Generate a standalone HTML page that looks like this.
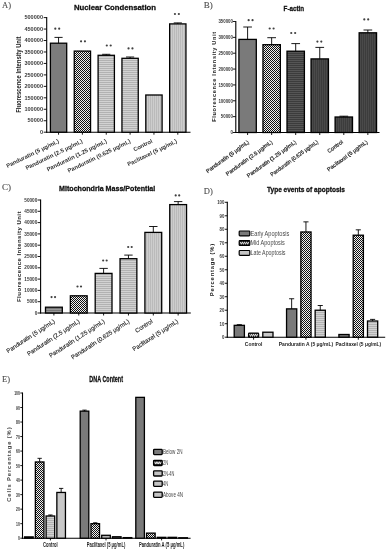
<!DOCTYPE html><html><head><meta charset="utf-8"><style>html,body{margin:0;padding:0;background:#fff;width:387px;height:550px;overflow:hidden}svg{display:block;filter:blur(0.3px)}</style></head><body>
<svg width="387" height="550" viewBox="0 0 387 550">
<defs>
<pattern id="chk" width="2" height="2" patternUnits="userSpaceOnUse"><rect width="2" height="2" fill="#f0f0f0"/><rect width="1" height="1" fill="#111"/><rect x="1" y="1" width="1" height="1" fill="#111"/></pattern>
<pattern id="hl" width="2" height="2" patternUnits="userSpaceOnUse"><rect width="2" height="2" fill="#d2d2d2"/><rect width="2" height="1" fill="#b2b2b2"/></pattern>
<pattern id="vl" width="2" height="2" patternUnits="userSpaceOnUse"><rect width="2" height="2" fill="#cdcdcd"/><rect width="1" height="2" fill="#bababa"/></pattern>
<pattern id="lg" width="2" height="2" patternUnits="userSpaceOnUse"><rect width="2" height="2" fill="#c6c6c6"/></pattern>
<pattern id="dhl" width="2" height="2" patternUnits="userSpaceOnUse"><rect width="2" height="2" fill="#3c3c3c"/><rect width="2" height="1" fill="#555"/></pattern>
<pattern id="dvl" width="2" height="2" patternUnits="userSpaceOnUse"><rect width="2" height="2" fill="#3c3c3c"/><rect width="1" height="2" fill="#4a4a4a"/></pattern>
<pattern id="mhl" width="2" height="2" patternUnits="userSpaceOnUse"><rect width="2" height="2" fill="#999"/><rect width="2" height="1" fill="#777"/></pattern>
</defs>
<rect width="387" height="550" fill="#fff"/>
<text x="2.00" y="7.50" font-size="8.8" font-family='"Liberation Serif", serif' text-anchor="start" fill="#4a4a4a" textLength="9.00" lengthAdjust="spacingAndGlyphs" stroke="#4a4a4a" stroke-width="0.1">A)</text>
<text x="74.00" y="9.70" font-size="8.0" font-family='"Liberation Sans", sans-serif' text-anchor="start" fill="#111" font-weight="bold" textLength="82.00" lengthAdjust="spacingAndGlyphs" stroke="#111" stroke-width="0.3">Nuclear Condensation</text>
<line x1="46.70" y1="17.10" x2="46.70" y2="132.70" stroke="#000" stroke-width="1.1"/>
<line x1="46.20" y1="132.20" x2="190.50" y2="132.20" stroke="#000" stroke-width="1.1"/>
<line x1="43.70" y1="132.20" x2="46.70" y2="132.20" stroke="#000" stroke-width="0.9"/>
<text x="43.00" y="133.90" font-size="4.8" font-family='"Liberation Sans", sans-serif' text-anchor="end" fill="#3a3a3a" font-weight="bold" textLength="3.10" lengthAdjust="spacingAndGlyphs">0</text>
<line x1="43.70" y1="120.74" x2="46.70" y2="120.74" stroke="#000" stroke-width="0.9"/>
<text x="43.00" y="122.44" font-size="4.8" font-family='"Liberation Sans", sans-serif' text-anchor="end" fill="#3a3a3a" font-weight="bold" textLength="15.50" lengthAdjust="spacingAndGlyphs">50000</text>
<line x1="43.70" y1="109.28" x2="46.70" y2="109.28" stroke="#000" stroke-width="0.9"/>
<text x="43.00" y="110.98" font-size="4.8" font-family='"Liberation Sans", sans-serif' text-anchor="end" fill="#3a3a3a" font-weight="bold" textLength="18.60" lengthAdjust="spacingAndGlyphs">100000</text>
<line x1="43.70" y1="97.82" x2="46.70" y2="97.82" stroke="#000" stroke-width="0.9"/>
<text x="43.00" y="99.52" font-size="4.8" font-family='"Liberation Sans", sans-serif' text-anchor="end" fill="#3a3a3a" font-weight="bold" textLength="18.60" lengthAdjust="spacingAndGlyphs">150000</text>
<line x1="43.70" y1="86.36" x2="46.70" y2="86.36" stroke="#000" stroke-width="0.9"/>
<text x="43.00" y="88.06" font-size="4.8" font-family='"Liberation Sans", sans-serif' text-anchor="end" fill="#3a3a3a" font-weight="bold" textLength="18.60" lengthAdjust="spacingAndGlyphs">200000</text>
<line x1="43.70" y1="74.90" x2="46.70" y2="74.90" stroke="#000" stroke-width="0.9"/>
<text x="43.00" y="76.60" font-size="4.8" font-family='"Liberation Sans", sans-serif' text-anchor="end" fill="#3a3a3a" font-weight="bold" textLength="18.60" lengthAdjust="spacingAndGlyphs">250000</text>
<line x1="43.70" y1="63.44" x2="46.70" y2="63.44" stroke="#000" stroke-width="0.9"/>
<text x="43.00" y="65.14" font-size="4.8" font-family='"Liberation Sans", sans-serif' text-anchor="end" fill="#3a3a3a" font-weight="bold" textLength="18.60" lengthAdjust="spacingAndGlyphs">300000</text>
<line x1="43.70" y1="51.98" x2="46.70" y2="51.98" stroke="#000" stroke-width="0.9"/>
<text x="43.00" y="53.68" font-size="4.8" font-family='"Liberation Sans", sans-serif' text-anchor="end" fill="#3a3a3a" font-weight="bold" textLength="18.60" lengthAdjust="spacingAndGlyphs">350000</text>
<line x1="43.70" y1="40.52" x2="46.70" y2="40.52" stroke="#000" stroke-width="0.9"/>
<text x="43.00" y="42.22" font-size="4.8" font-family='"Liberation Sans", sans-serif' text-anchor="end" fill="#3a3a3a" font-weight="bold" textLength="18.60" lengthAdjust="spacingAndGlyphs">400000</text>
<line x1="43.70" y1="29.06" x2="46.70" y2="29.06" stroke="#000" stroke-width="0.9"/>
<text x="43.00" y="30.76" font-size="4.8" font-family='"Liberation Sans", sans-serif' text-anchor="end" fill="#3a3a3a" font-weight="bold" textLength="18.60" lengthAdjust="spacingAndGlyphs">450000</text>
<line x1="43.70" y1="17.60" x2="46.70" y2="17.60" stroke="#000" stroke-width="0.9"/>
<text x="43.00" y="19.30" font-size="4.8" font-family='"Liberation Sans", sans-serif' text-anchor="end" fill="#3a3a3a" font-weight="bold" textLength="18.60" lengthAdjust="spacingAndGlyphs">500000</text>
<text x="21.40" y="112.80" font-size="7.0" font-family='"Liberation Sans", sans-serif' text-anchor="start" fill="#222" font-weight="bold" textLength="76.30" lengthAdjust="spacingAndGlyphs" transform="rotate(-90 21.40 112.80)">Fluorescence Intensity Unit</text>
<rect x="50.40" y="43.20" width="16.30" height="89.00" fill="#7c7c7c" stroke="#000" stroke-width="1.3"/>
<line x1="58.55" y1="43.20" x2="58.55" y2="37.40" stroke="#000" stroke-width="0.9"/>
<line x1="54.47" y1="37.40" x2="62.62" y2="37.40" stroke="#000" stroke-width="0.9"/>
<line x1="58.55" y1="132.20" x2="58.55" y2="134.70" stroke="#000" stroke-width="0.9"/>
<circle cx="55.30" cy="28.70" r="1.1" fill="#404040"/>
<circle cx="59.20" cy="28.70" r="1.1" fill="#404040"/>
<text x="59.55" y="142.50" font-size="5.8" font-family='"Liberation Sans", sans-serif' text-anchor="end" fill="#303030" font-weight="bold" transform="rotate(-26 59.55 142.50)">Panduratin (5 μg/mL)</text>
<rect x="74.25" y="51.10" width="16.30" height="81.10" fill="url(#chk)" stroke="#000" stroke-width="1.3"/>
<line x1="82.40" y1="132.20" x2="82.40" y2="134.70" stroke="#000" stroke-width="0.9"/>
<circle cx="81.05" cy="41.30" r="1.1" fill="#404040"/>
<circle cx="84.95" cy="41.30" r="1.1" fill="#404040"/>
<text x="83.10" y="142.50" font-size="5.8" font-family='"Liberation Sans", sans-serif' text-anchor="end" fill="#303030" font-weight="bold" transform="rotate(-26 83.10 142.50)">Panduratin (2.5 μg/mL)</text>
<rect x="98.10" y="55.30" width="16.30" height="76.90" fill="url(#hl)" stroke="#000" stroke-width="1.3"/>
<line x1="106.25" y1="55.30" x2="106.25" y2="54.30" stroke="#000" stroke-width="0.9"/>
<line x1="102.17" y1="54.30" x2="110.33" y2="54.30" stroke="#000" stroke-width="0.9"/>
<line x1="106.25" y1="132.20" x2="106.25" y2="134.70" stroke="#000" stroke-width="0.9"/>
<circle cx="106.80" cy="45.50" r="1.1" fill="#404040"/>
<circle cx="110.70" cy="45.50" r="1.1" fill="#404040"/>
<text x="107.25" y="142.50" font-size="5.8" font-family='"Liberation Sans", sans-serif' text-anchor="end" fill="#303030" font-weight="bold" transform="rotate(-26 107.25 142.50)">Panduratin (1.25 μg/mL)</text>
<rect x="121.95" y="58.30" width="16.30" height="73.90" fill="url(#hl)" stroke="#000" stroke-width="1.3"/>
<line x1="130.10" y1="58.30" x2="130.10" y2="57.00" stroke="#000" stroke-width="0.9"/>
<line x1="126.03" y1="57.00" x2="134.18" y2="57.00" stroke="#000" stroke-width="0.9"/>
<line x1="130.10" y1="132.20" x2="130.10" y2="134.70" stroke="#000" stroke-width="0.9"/>
<circle cx="128.55" cy="48.40" r="1.1" fill="#404040"/>
<circle cx="132.45" cy="48.40" r="1.1" fill="#404040"/>
<text x="131.10" y="142.50" font-size="5.8" font-family='"Liberation Sans", sans-serif' text-anchor="end" fill="#303030" font-weight="bold" transform="rotate(-26 131.10 142.50)">Panduratin (0.625 μg/mL)</text>
<rect x="145.80" y="95.00" width="16.30" height="37.20" fill="url(#vl)" stroke="#000" stroke-width="1.3"/>
<line x1="153.95" y1="132.20" x2="153.95" y2="134.70" stroke="#000" stroke-width="0.9"/>
<text x="152.95" y="142.50" font-size="5.8" font-family='"Liberation Sans", sans-serif' text-anchor="end" fill="#303030" font-weight="bold" transform="rotate(-26 152.95 142.50)">Control</text>
<rect x="169.65" y="23.90" width="16.30" height="108.30" fill="url(#vl)" stroke="#000" stroke-width="1.3"/>
<line x1="177.80" y1="23.90" x2="177.80" y2="22.90" stroke="#000" stroke-width="0.9"/>
<line x1="173.73" y1="22.90" x2="181.88" y2="22.90" stroke="#000" stroke-width="0.9"/>
<line x1="177.80" y1="132.20" x2="177.80" y2="134.70" stroke="#000" stroke-width="0.9"/>
<circle cx="174.95" cy="14.00" r="1.1" fill="#404040"/>
<circle cx="178.85" cy="14.00" r="1.1" fill="#404040"/>
<text x="177.50" y="142.50" font-size="5.8" font-family='"Liberation Sans", sans-serif' text-anchor="end" fill="#303030" font-weight="bold" transform="rotate(-26 177.50 142.50)">Paclitaxel (5 μg/mL)</text>
<text x="203.80" y="7.90" font-size="8.8" font-family='"Liberation Serif", serif' text-anchor="start" fill="#4a4a4a" textLength="9.00" lengthAdjust="spacingAndGlyphs" stroke="#4a4a4a" stroke-width="0.1">B)</text>
<text x="283.60" y="11.20" font-size="7.8" font-family='"Liberation Sans", sans-serif' text-anchor="start" fill="#111" font-weight="bold" textLength="20.60" lengthAdjust="spacingAndGlyphs" stroke="#111" stroke-width="0.3">F-actin</text>
<line x1="235.80" y1="21.00" x2="235.80" y2="133.00" stroke="#000" stroke-width="1.1"/>
<line x1="235.30" y1="132.50" x2="379.50" y2="132.50" stroke="#000" stroke-width="1.1"/>
<line x1="232.80" y1="132.50" x2="235.80" y2="132.50" stroke="#000" stroke-width="0.9"/>
<text x="232.90" y="134.30" font-size="5.0" font-family='"Liberation Sans", sans-serif' text-anchor="end" fill="#3a3a3a" font-weight="bold" textLength="2.42" lengthAdjust="spacingAndGlyphs">0</text>
<line x1="232.80" y1="116.64" x2="235.80" y2="116.64" stroke="#000" stroke-width="0.9"/>
<text x="232.90" y="118.44" font-size="5.0" font-family='"Liberation Sans", sans-serif' text-anchor="end" fill="#3a3a3a" font-weight="bold" textLength="12.10" lengthAdjust="spacingAndGlyphs">50000</text>
<line x1="232.80" y1="100.79" x2="235.80" y2="100.79" stroke="#000" stroke-width="0.9"/>
<text x="232.90" y="102.59" font-size="5.0" font-family='"Liberation Sans", sans-serif' text-anchor="end" fill="#3a3a3a" font-weight="bold" textLength="14.52" lengthAdjust="spacingAndGlyphs">100000</text>
<line x1="232.80" y1="84.93" x2="235.80" y2="84.93" stroke="#000" stroke-width="0.9"/>
<text x="232.90" y="86.73" font-size="5.0" font-family='"Liberation Sans", sans-serif' text-anchor="end" fill="#3a3a3a" font-weight="bold" textLength="14.52" lengthAdjust="spacingAndGlyphs">150000</text>
<line x1="232.80" y1="69.07" x2="235.80" y2="69.07" stroke="#000" stroke-width="0.9"/>
<text x="232.90" y="70.87" font-size="5.0" font-family='"Liberation Sans", sans-serif' text-anchor="end" fill="#3a3a3a" font-weight="bold" textLength="14.52" lengthAdjust="spacingAndGlyphs">200000</text>
<line x1="232.80" y1="53.21" x2="235.80" y2="53.21" stroke="#000" stroke-width="0.9"/>
<text x="232.90" y="55.01" font-size="5.0" font-family='"Liberation Sans", sans-serif' text-anchor="end" fill="#3a3a3a" font-weight="bold" textLength="14.52" lengthAdjust="spacingAndGlyphs">250000</text>
<line x1="232.80" y1="37.36" x2="235.80" y2="37.36" stroke="#000" stroke-width="0.9"/>
<text x="232.90" y="39.16" font-size="5.0" font-family='"Liberation Sans", sans-serif' text-anchor="end" fill="#3a3a3a" font-weight="bold" textLength="14.52" lengthAdjust="spacingAndGlyphs">300000</text>
<line x1="232.80" y1="21.50" x2="235.80" y2="21.50" stroke="#000" stroke-width="0.9"/>
<text x="232.90" y="23.30" font-size="5.0" font-family='"Liberation Sans", sans-serif' text-anchor="end" fill="#3a3a3a" font-weight="bold" textLength="14.52" lengthAdjust="spacingAndGlyphs">350000</text>
<text x="215.60" y="121.80" font-size="5.7" font-family='"Liberation Sans", sans-serif' text-anchor="start" fill="#222" font-weight="bold" textLength="90.00" lengthAdjust="spacing" transform="rotate(-90 215.60 121.80)">Fluorescence Intensity Unit</text>
<rect x="238.90" y="39.40" width="17.40" height="93.10" fill="#7a7a7a" stroke="#000" stroke-width="1.3"/>
<line x1="247.60" y1="39.40" x2="247.60" y2="27.00" stroke="#000" stroke-width="0.9"/>
<line x1="243.25" y1="27.00" x2="251.95" y2="27.00" stroke="#000" stroke-width="0.9"/>
<line x1="247.60" y1="132.50" x2="247.60" y2="135.00" stroke="#000" stroke-width="0.9"/>
<circle cx="248.65" cy="20.20" r="1.1" fill="#404040"/>
<circle cx="252.55" cy="20.20" r="1.1" fill="#404040"/>
<text x="249.60" y="142.80" font-size="5.5" font-family='"Liberation Sans", sans-serif' text-anchor="end" fill="#2a2a2a" transform="rotate(-36 249.60 142.80)" stroke="#2a2a2a" stroke-width="0.22">Panduratin (5 μg/mL)</text>
<rect x="262.95" y="44.70" width="17.40" height="87.80" fill="url(#chk)" stroke="#000" stroke-width="1.3"/>
<line x1="271.65" y1="44.70" x2="271.65" y2="37.70" stroke="#000" stroke-width="0.9"/>
<line x1="267.30" y1="37.70" x2="276.00" y2="37.70" stroke="#000" stroke-width="0.9"/>
<line x1="271.65" y1="132.50" x2="271.65" y2="135.00" stroke="#000" stroke-width="0.9"/>
<circle cx="269.70" cy="28.50" r="1.1" fill="#404040"/>
<circle cx="273.60" cy="28.50" r="1.1" fill="#404040"/>
<text x="273.05" y="142.80" font-size="5.5" font-family='"Liberation Sans", sans-serif' text-anchor="end" fill="#2a2a2a" transform="rotate(-36 273.05 142.80)" stroke="#2a2a2a" stroke-width="0.22">Panduratin (2.5 μg/mL)</text>
<rect x="287.00" y="51.20" width="17.40" height="81.30" fill="url(#dhl)" stroke="#000" stroke-width="1.3"/>
<line x1="295.70" y1="51.20" x2="295.70" y2="43.60" stroke="#000" stroke-width="0.9"/>
<line x1="291.35" y1="43.60" x2="300.05" y2="43.60" stroke="#000" stroke-width="0.9"/>
<line x1="295.70" y1="132.50" x2="295.70" y2="135.00" stroke="#000" stroke-width="0.9"/>
<circle cx="291.25" cy="33.00" r="1.1" fill="#404040"/>
<circle cx="295.15" cy="33.00" r="1.1" fill="#404040"/>
<text x="296.70" y="142.80" font-size="5.5" font-family='"Liberation Sans", sans-serif' text-anchor="end" fill="#2a2a2a" transform="rotate(-36 296.70 142.80)" stroke="#2a2a2a" stroke-width="0.22">Panduratin (1.25 μg/mL)</text>
<rect x="311.05" y="58.90" width="17.40" height="73.60" fill="url(#dvl)" stroke="#000" stroke-width="1.3"/>
<line x1="319.75" y1="58.90" x2="319.75" y2="47.40" stroke="#000" stroke-width="0.9"/>
<line x1="315.40" y1="47.40" x2="324.10" y2="47.40" stroke="#000" stroke-width="0.9"/>
<line x1="319.75" y1="132.50" x2="319.75" y2="135.00" stroke="#000" stroke-width="0.9"/>
<circle cx="317.40" cy="41.60" r="1.1" fill="#404040"/>
<circle cx="321.30" cy="41.60" r="1.1" fill="#404040"/>
<text x="318.55" y="142.80" font-size="5.5" font-family='"Liberation Sans", sans-serif' text-anchor="end" fill="#2a2a2a" textLength="57.50" lengthAdjust="spacingAndGlyphs" transform="rotate(-36 318.55 142.80)" stroke="#2a2a2a" stroke-width="0.22">Panduratin (0.625 μg/mL)</text>
<rect x="335.10" y="117.00" width="17.40" height="15.50" fill="url(#dvl)" stroke="#000" stroke-width="1.3"/>
<line x1="343.80" y1="117.00" x2="343.80" y2="116.20" stroke="#000" stroke-width="0.9"/>
<line x1="339.45" y1="116.20" x2="348.15" y2="116.20" stroke="#000" stroke-width="0.9"/>
<line x1="343.80" y1="132.50" x2="343.80" y2="135.00" stroke="#000" stroke-width="0.9"/>
<text x="343.40" y="142.80" font-size="5.5" font-family='"Liberation Sans", sans-serif' text-anchor="end" fill="#2a2a2a" transform="rotate(-36 343.40 142.80)" stroke="#2a2a2a" stroke-width="0.22">Control</text>
<rect x="359.15" y="32.80" width="17.40" height="99.70" fill="url(#dvl)" stroke="#000" stroke-width="1.3"/>
<line x1="367.85" y1="32.80" x2="367.85" y2="30.00" stroke="#000" stroke-width="0.9"/>
<line x1="363.50" y1="30.00" x2="372.20" y2="30.00" stroke="#000" stroke-width="0.9"/>
<line x1="367.85" y1="132.50" x2="367.85" y2="135.00" stroke="#000" stroke-width="0.9"/>
<circle cx="364.30" cy="19.40" r="1.1" fill="#404040"/>
<circle cx="368.20" cy="19.40" r="1.1" fill="#404040"/>
<text x="368.25" y="142.80" font-size="5.5" font-family='"Liberation Sans", sans-serif' text-anchor="end" fill="#2a2a2a" transform="rotate(-36 368.25 142.80)" stroke="#2a2a2a" stroke-width="0.22">Paclitaxel (5 μg/mL)</text>
<text x="2.00" y="189.50" font-size="8.8" font-family='"Liberation Serif", serif' text-anchor="start" fill="#4a4a4a" textLength="9.00" lengthAdjust="spacingAndGlyphs" stroke="#4a4a4a" stroke-width="0.1">C)</text>
<text x="59.10" y="190.70" font-size="7.7" font-family='"Liberation Sans", sans-serif' text-anchor="start" fill="#111" font-weight="bold" textLength="96.20" lengthAdjust="spacingAndGlyphs" stroke="#111" stroke-width="0.3">Mitochondria Mass/Potential</text>
<line x1="40.60" y1="199.50" x2="40.60" y2="313.50" stroke="#000" stroke-width="1.1"/>
<line x1="40.10" y1="313.00" x2="190.80" y2="313.00" stroke="#000" stroke-width="1.1"/>
<line x1="37.60" y1="313.00" x2="40.60" y2="313.00" stroke="#000" stroke-width="0.9"/>
<text x="37.30" y="314.60" font-size="4.5" font-family='"Liberation Sans", sans-serif' text-anchor="end" fill="#3a3a3a" font-weight="bold" textLength="2.60" lengthAdjust="spacingAndGlyphs">0</text>
<line x1="37.60" y1="301.70" x2="40.60" y2="301.70" stroke="#000" stroke-width="0.9"/>
<text x="37.30" y="303.30" font-size="4.5" font-family='"Liberation Sans", sans-serif' text-anchor="end" fill="#3a3a3a" font-weight="bold" textLength="10.40" lengthAdjust="spacingAndGlyphs">5000</text>
<line x1="37.60" y1="290.40" x2="40.60" y2="290.40" stroke="#000" stroke-width="0.9"/>
<text x="37.30" y="292.00" font-size="4.5" font-family='"Liberation Sans", sans-serif' text-anchor="end" fill="#3a3a3a" font-weight="bold" textLength="13.00" lengthAdjust="spacingAndGlyphs">10000</text>
<line x1="37.60" y1="279.10" x2="40.60" y2="279.10" stroke="#000" stroke-width="0.9"/>
<text x="37.30" y="280.70" font-size="4.5" font-family='"Liberation Sans", sans-serif' text-anchor="end" fill="#3a3a3a" font-weight="bold" textLength="13.00" lengthAdjust="spacingAndGlyphs">15000</text>
<line x1="37.60" y1="267.80" x2="40.60" y2="267.80" stroke="#000" stroke-width="0.9"/>
<text x="37.30" y="269.40" font-size="4.5" font-family='"Liberation Sans", sans-serif' text-anchor="end" fill="#3a3a3a" font-weight="bold" textLength="13.00" lengthAdjust="spacingAndGlyphs">20000</text>
<line x1="37.60" y1="256.50" x2="40.60" y2="256.50" stroke="#000" stroke-width="0.9"/>
<text x="37.30" y="258.10" font-size="4.5" font-family='"Liberation Sans", sans-serif' text-anchor="end" fill="#3a3a3a" font-weight="bold" textLength="13.00" lengthAdjust="spacingAndGlyphs">25000</text>
<line x1="37.60" y1="245.20" x2="40.60" y2="245.20" stroke="#000" stroke-width="0.9"/>
<text x="37.30" y="246.80" font-size="4.5" font-family='"Liberation Sans", sans-serif' text-anchor="end" fill="#3a3a3a" font-weight="bold" textLength="13.00" lengthAdjust="spacingAndGlyphs">30000</text>
<line x1="37.60" y1="233.90" x2="40.60" y2="233.90" stroke="#000" stroke-width="0.9"/>
<text x="37.30" y="235.50" font-size="4.5" font-family='"Liberation Sans", sans-serif' text-anchor="end" fill="#3a3a3a" font-weight="bold" textLength="13.00" lengthAdjust="spacingAndGlyphs">35000</text>
<line x1="37.60" y1="222.60" x2="40.60" y2="222.60" stroke="#000" stroke-width="0.9"/>
<text x="37.30" y="224.20" font-size="4.5" font-family='"Liberation Sans", sans-serif' text-anchor="end" fill="#3a3a3a" font-weight="bold" textLength="13.00" lengthAdjust="spacingAndGlyphs">40000</text>
<line x1="37.60" y1="211.30" x2="40.60" y2="211.30" stroke="#000" stroke-width="0.9"/>
<text x="37.30" y="212.90" font-size="4.5" font-family='"Liberation Sans", sans-serif' text-anchor="end" fill="#3a3a3a" font-weight="bold" textLength="13.00" lengthAdjust="spacingAndGlyphs">45000</text>
<line x1="37.60" y1="200.00" x2="40.60" y2="200.00" stroke="#000" stroke-width="0.9"/>
<text x="37.30" y="201.60" font-size="4.5" font-family='"Liberation Sans", sans-serif' text-anchor="end" fill="#3a3a3a" font-weight="bold" textLength="13.00" lengthAdjust="spacingAndGlyphs">50000</text>
<text x="20.50" y="302.00" font-size="6.0" font-family='"Liberation Sans", sans-serif' text-anchor="start" fill="#222" font-weight="bold" textLength="90.50" lengthAdjust="spacing" transform="rotate(-90 20.50 302.00)">Fluorescence Intensity Unit</text>
<rect x="45.50" y="307.20" width="16.80" height="5.80" fill="url(#mhl)" stroke="#000" stroke-width="1.3"/>
<line x1="53.90" y1="313.00" x2="53.90" y2="315.50" stroke="#000" stroke-width="0.9"/>
<circle cx="51.55" cy="297.10" r="1.1" fill="#404040"/>
<circle cx="55.05" cy="297.10" r="1.1" fill="#404040"/>
<text x="55.40" y="322.40" font-size="6.0" font-family='"Liberation Sans", sans-serif' text-anchor="end" fill="#2a2a2a" transform="rotate(-33 55.40 322.40)" stroke="#2a2a2a" stroke-width="0.15">Panduratin (5 μg/mL)</text>
<rect x="70.35" y="295.80" width="16.80" height="17.20" fill="url(#chk)" stroke="#000" stroke-width="1.3"/>
<line x1="78.75" y1="313.00" x2="78.75" y2="315.50" stroke="#000" stroke-width="0.9"/>
<circle cx="77.50" cy="286.50" r="1.1" fill="#404040"/>
<circle cx="81.00" cy="286.50" r="1.1" fill="#404040"/>
<text x="80.25" y="322.40" font-size="6.0" font-family='"Liberation Sans", sans-serif' text-anchor="end" fill="#2a2a2a" transform="rotate(-33 80.25 322.40)" stroke="#2a2a2a" stroke-width="0.15">Panduratin (2.5 μg/mL)</text>
<rect x="95.20" y="273.40" width="16.80" height="39.60" fill="url(#hl)" stroke="#000" stroke-width="1.3"/>
<line x1="103.60" y1="273.40" x2="103.60" y2="268.40" stroke="#000" stroke-width="0.9"/>
<line x1="99.40" y1="268.40" x2="107.80" y2="268.40" stroke="#000" stroke-width="0.9"/>
<line x1="103.60" y1="313.00" x2="103.60" y2="315.50" stroke="#000" stroke-width="0.9"/>
<circle cx="103.15" cy="260.50" r="1.1" fill="#404040"/>
<circle cx="106.65" cy="260.50" r="1.1" fill="#404040"/>
<text x="105.10" y="322.40" font-size="6.0" font-family='"Liberation Sans", sans-serif' text-anchor="end" fill="#2a2a2a" transform="rotate(-33 105.10 322.40)" stroke="#2a2a2a" stroke-width="0.15">Panduratin (1.25 μg/mL)</text>
<rect x="120.05" y="258.70" width="16.80" height="54.30" fill="url(#hl)" stroke="#000" stroke-width="1.3"/>
<line x1="128.45" y1="258.70" x2="128.45" y2="255.10" stroke="#000" stroke-width="0.9"/>
<line x1="124.25" y1="255.10" x2="132.65" y2="255.10" stroke="#000" stroke-width="0.9"/>
<line x1="128.45" y1="313.00" x2="128.45" y2="315.50" stroke="#000" stroke-width="0.9"/>
<circle cx="128.20" cy="247.00" r="1.1" fill="#404040"/>
<circle cx="131.70" cy="247.00" r="1.1" fill="#404040"/>
<text x="129.95" y="322.40" font-size="6.0" font-family='"Liberation Sans", sans-serif' text-anchor="end" fill="#2a2a2a" transform="rotate(-33 129.95 322.40)" stroke="#2a2a2a" stroke-width="0.15">Panduratin (0.625 μg/mL)</text>
<rect x="144.90" y="232.40" width="16.80" height="80.60" fill="url(#vl)" stroke="#000" stroke-width="1.3"/>
<line x1="153.30" y1="232.40" x2="153.30" y2="226.50" stroke="#000" stroke-width="0.9"/>
<line x1="149.10" y1="226.50" x2="157.50" y2="226.50" stroke="#000" stroke-width="0.9"/>
<line x1="153.30" y1="313.00" x2="153.30" y2="315.50" stroke="#000" stroke-width="0.9"/>
<text x="153.10" y="322.40" font-size="6.0" font-family='"Liberation Sans", sans-serif' text-anchor="end" fill="#2a2a2a" transform="rotate(-33 153.10 322.40)" stroke="#2a2a2a" stroke-width="0.15">Control</text>
<rect x="169.75" y="204.60" width="16.80" height="108.40" fill="url(#vl)" stroke="#000" stroke-width="1.3"/>
<line x1="178.15" y1="204.60" x2="178.15" y2="201.60" stroke="#000" stroke-width="0.9"/>
<line x1="173.95" y1="201.60" x2="182.35" y2="201.60" stroke="#000" stroke-width="0.9"/>
<line x1="178.15" y1="313.00" x2="178.15" y2="315.50" stroke="#000" stroke-width="0.9"/>
<circle cx="175.70" cy="195.40" r="1.1" fill="#404040"/>
<circle cx="179.20" cy="195.40" r="1.1" fill="#404040"/>
<text x="178.65" y="322.40" font-size="6.0" font-family='"Liberation Sans", sans-serif' text-anchor="end" fill="#2a2a2a" transform="rotate(-33 178.65 322.40)" stroke="#2a2a2a" stroke-width="0.15">Paclitaxel (5 μg/mL)</text>
<text x="203.80" y="194.40" font-size="8.8" font-family='"Liberation Serif", serif' text-anchor="start" fill="#4a4a4a" textLength="9.00" lengthAdjust="spacingAndGlyphs" stroke="#4a4a4a" stroke-width="0.1">D)</text>
<text x="267.00" y="192.10" font-size="7.1" font-family='"Liberation Sans", sans-serif' text-anchor="start" fill="#111" font-weight="bold" textLength="78.00" lengthAdjust="spacingAndGlyphs" stroke="#111" stroke-width="0.3">Type events of apoptosis</text>
<line x1="227.30" y1="201.80" x2="227.30" y2="337.70" stroke="#000" stroke-width="1.1"/>
<line x1="226.80" y1="337.20" x2="385.20" y2="337.20" stroke="#000" stroke-width="1.1"/>
<line x1="224.80" y1="337.20" x2="227.30" y2="337.20" stroke="#000" stroke-width="0.9"/>
<text x="224.40" y="339.20" font-size="5.6" font-family='"Liberation Sans", sans-serif' text-anchor="end" fill="#3a3a3a" font-weight="bold" textLength="2.40" lengthAdjust="spacingAndGlyphs">0</text>
<line x1="224.80" y1="323.71" x2="227.30" y2="323.71" stroke="#000" stroke-width="0.9"/>
<text x="224.40" y="325.71" font-size="5.6" font-family='"Liberation Sans", sans-serif' text-anchor="end" fill="#3a3a3a" font-weight="bold" textLength="4.80" lengthAdjust="spacingAndGlyphs">10</text>
<line x1="224.80" y1="310.22" x2="227.30" y2="310.22" stroke="#000" stroke-width="0.9"/>
<text x="224.40" y="312.22" font-size="5.6" font-family='"Liberation Sans", sans-serif' text-anchor="end" fill="#3a3a3a" font-weight="bold" textLength="4.80" lengthAdjust="spacingAndGlyphs">20</text>
<line x1="224.80" y1="296.73" x2="227.30" y2="296.73" stroke="#000" stroke-width="0.9"/>
<text x="224.40" y="298.73" font-size="5.6" font-family='"Liberation Sans", sans-serif' text-anchor="end" fill="#3a3a3a" font-weight="bold" textLength="4.80" lengthAdjust="spacingAndGlyphs">30</text>
<line x1="224.80" y1="283.24" x2="227.30" y2="283.24" stroke="#000" stroke-width="0.9"/>
<text x="224.40" y="285.24" font-size="5.6" font-family='"Liberation Sans", sans-serif' text-anchor="end" fill="#3a3a3a" font-weight="bold" textLength="4.80" lengthAdjust="spacingAndGlyphs">40</text>
<line x1="224.80" y1="269.75" x2="227.30" y2="269.75" stroke="#000" stroke-width="0.9"/>
<text x="224.40" y="271.75" font-size="5.6" font-family='"Liberation Sans", sans-serif' text-anchor="end" fill="#3a3a3a" font-weight="bold" textLength="4.80" lengthAdjust="spacingAndGlyphs">50</text>
<line x1="224.80" y1="256.26" x2="227.30" y2="256.26" stroke="#000" stroke-width="0.9"/>
<text x="224.40" y="258.26" font-size="5.6" font-family='"Liberation Sans", sans-serif' text-anchor="end" fill="#3a3a3a" font-weight="bold" textLength="4.80" lengthAdjust="spacingAndGlyphs">60</text>
<line x1="224.80" y1="242.77" x2="227.30" y2="242.77" stroke="#000" stroke-width="0.9"/>
<text x="224.40" y="244.77" font-size="5.6" font-family='"Liberation Sans", sans-serif' text-anchor="end" fill="#3a3a3a" font-weight="bold" textLength="4.80" lengthAdjust="spacingAndGlyphs">70</text>
<line x1="224.80" y1="229.28" x2="227.30" y2="229.28" stroke="#000" stroke-width="0.9"/>
<text x="224.40" y="231.28" font-size="5.6" font-family='"Liberation Sans", sans-serif' text-anchor="end" fill="#3a3a3a" font-weight="bold" textLength="4.80" lengthAdjust="spacingAndGlyphs">80</text>
<line x1="224.80" y1="215.79" x2="227.30" y2="215.79" stroke="#000" stroke-width="0.9"/>
<text x="224.40" y="217.79" font-size="5.6" font-family='"Liberation Sans", sans-serif' text-anchor="end" fill="#3a3a3a" font-weight="bold" textLength="4.80" lengthAdjust="spacingAndGlyphs">90</text>
<line x1="224.80" y1="202.30" x2="227.30" y2="202.30" stroke="#000" stroke-width="0.9"/>
<text x="224.40" y="204.30" font-size="5.6" font-family='"Liberation Sans", sans-serif' text-anchor="end" fill="#3a3a3a" font-weight="bold" textLength="7.20" lengthAdjust="spacingAndGlyphs">100</text>
<text x="214.30" y="296.20" font-size="5.8" font-family='"Liberation Sans", sans-serif' text-anchor="start" fill="#222" font-weight="bold" textLength="52.40" lengthAdjust="spacing" transform="rotate(-90 214.30 296.20)">Percentage (%)</text>
<rect x="234.20" y="325.33" width="10.20" height="11.87" fill="#7a7a7a" stroke="#000" stroke-width="1.3"/>
<line x1="239.30" y1="325.33" x2="239.30" y2="324.65" stroke="#000" stroke-width="0.9"/>
<line x1="236.75" y1="324.65" x2="241.85" y2="324.65" stroke="#000" stroke-width="0.9"/>
<rect x="248.50" y="333.15" width="10.20" height="4.05" rx="0.8" fill="#111" stroke="#000" stroke-width="1.1"/>
<polyline points="249.50,333.98 250.53,336.38 251.55,333.98 252.57,336.38 253.60,333.98 254.62,336.38 255.65,333.98 256.68,336.38 257.70,333.98" fill="none" stroke="#fff" stroke-width="0.8"/>
<rect x="262.80" y="332.21" width="10.20" height="4.99" fill="#c8c8c8" stroke="#000" stroke-width="1.3"/>
<line x1="253.60" y1="337.20" x2="253.60" y2="339.70" stroke="#000" stroke-width="0.9"/>
<text x="253.60" y="346.00" font-size="6.2" font-family='"Liberation Sans", sans-serif' text-anchor="middle" fill="#222" font-weight="bold" textLength="17.50" lengthAdjust="spacingAndGlyphs">Control</text>
<rect x="286.55" y="308.87" width="10.20" height="28.33" fill="#7a7a7a" stroke="#000" stroke-width="1.3"/>
<line x1="291.65" y1="308.87" x2="291.65" y2="298.75" stroke="#000" stroke-width="0.9"/>
<line x1="289.10" y1="298.75" x2="294.20" y2="298.75" stroke="#000" stroke-width="0.9"/>
<rect x="300.85" y="231.98" width="10.20" height="105.22" fill="url(#chk)" stroke="#000" stroke-width="1.3"/>
<line x1="305.95" y1="231.98" x2="305.95" y2="221.86" stroke="#000" stroke-width="0.9"/>
<line x1="303.40" y1="221.86" x2="308.50" y2="221.86" stroke="#000" stroke-width="0.9"/>
<rect x="315.15" y="310.22" width="10.20" height="26.98" fill="url(#hl)" stroke="#000" stroke-width="1.3"/>
<line x1="320.25" y1="310.22" x2="320.25" y2="305.50" stroke="#000" stroke-width="0.9"/>
<line x1="317.70" y1="305.50" x2="322.80" y2="305.50" stroke="#000" stroke-width="0.9"/>
<line x1="305.95" y1="337.20" x2="305.95" y2="339.70" stroke="#000" stroke-width="0.9"/>
<text x="305.95" y="346.00" font-size="6.2" font-family='"Liberation Sans", sans-serif' text-anchor="middle" fill="#222" font-weight="bold" textLength="54.30" lengthAdjust="spacingAndGlyphs">Panduratin A (5 μg/mL)</text>
<rect x="338.90" y="334.50" width="10.20" height="2.70" fill="#7a7a7a" stroke="#000" stroke-width="1.3"/>
<rect x="353.20" y="235.22" width="10.20" height="101.98" fill="url(#chk)" stroke="#000" stroke-width="1.3"/>
<line x1="358.30" y1="235.22" x2="358.30" y2="229.82" stroke="#000" stroke-width="0.9"/>
<line x1="355.75" y1="229.82" x2="360.85" y2="229.82" stroke="#000" stroke-width="0.9"/>
<rect x="367.50" y="321.01" width="10.20" height="16.19" fill="url(#hl)" stroke="#000" stroke-width="1.3"/>
<line x1="372.60" y1="321.01" x2="372.60" y2="319.39" stroke="#000" stroke-width="0.9"/>
<line x1="370.05" y1="319.39" x2="375.15" y2="319.39" stroke="#000" stroke-width="0.9"/>
<line x1="358.30" y1="337.20" x2="358.30" y2="339.70" stroke="#000" stroke-width="0.9"/>
<text x="358.30" y="346.00" font-size="6.2" font-family='"Liberation Sans", sans-serif' text-anchor="middle" fill="#222" font-weight="bold" textLength="45.70" lengthAdjust="spacingAndGlyphs">Paclitaxel (5 μg/mL)</text>
<rect x="239.20" y="231.00" width="10.60" height="4.90" rx="0.8" fill="#7a7a7a" stroke="#000" stroke-width="1.2"/>
<text x="250.50" y="235.80" font-size="6.6" font-family='"Liberation Sans", sans-serif' text-anchor="start" fill="#4a4a4a" textLength="38.80" lengthAdjust="spacingAndGlyphs">Early Apoptosis</text>
<rect x="239.20" y="240.60" width="10.60" height="4.90" rx="0.8" fill="#111" stroke="#000" stroke-width="1.2"/>
<polyline points="240.20,241.85 241.27,244.25 242.35,241.85 243.42,244.25 244.50,241.85 245.57,244.25 246.65,241.85 247.72,244.25 248.80,241.85" fill="none" stroke="#fff" stroke-width="0.8"/>
<text x="250.50" y="245.40" font-size="6.6" font-family='"Liberation Sans", sans-serif' text-anchor="start" fill="#4a4a4a" textLength="34.30" lengthAdjust="spacingAndGlyphs">Mid Apoptosis</text>
<rect x="239.20" y="250.50" width="10.60" height="4.90" rx="0.8" fill="#c4c4c4" stroke="#000" stroke-width="1.2"/>
<text x="250.50" y="255.30" font-size="6.6" font-family='"Liberation Sans", sans-serif' text-anchor="start" fill="#4a4a4a" textLength="35.00" lengthAdjust="spacingAndGlyphs">Late Apoptosis</text>
<text x="2.00" y="382.00" font-size="8.8" font-family='"Liberation Serif", serif' text-anchor="start" fill="#4a4a4a" textLength="8.00" lengthAdjust="spacingAndGlyphs" stroke="#4a4a4a" stroke-width="0.1">E)</text>
<text x="89.30" y="381.70" font-size="8.6" font-family='"Liberation Sans", sans-serif' text-anchor="start" fill="#111" font-weight="bold" textLength="33.70" lengthAdjust="spacingAndGlyphs" stroke="#111" stroke-width="0.3">DNA Content</text>
<line x1="22.50" y1="392.50" x2="22.50" y2="538.70" stroke="#000" stroke-width="1.1"/>
<line x1="22.00" y1="538.20" x2="190.60" y2="538.20" stroke="#000" stroke-width="1.1"/>
<line x1="20.30" y1="538.20" x2="22.50" y2="538.20" stroke="#000" stroke-width="0.9"/>
<text x="19.90" y="540.30" font-size="6.0" font-family='"Liberation Sans", sans-serif' text-anchor="end" fill="#333" font-weight="bold" textLength="1.90" lengthAdjust="spacingAndGlyphs">0</text>
<line x1="20.30" y1="523.68" x2="22.50" y2="523.68" stroke="#000" stroke-width="0.9"/>
<text x="19.90" y="525.78" font-size="6.0" font-family='"Liberation Sans", sans-serif' text-anchor="end" fill="#333" font-weight="bold" textLength="3.80" lengthAdjust="spacingAndGlyphs">10</text>
<line x1="20.30" y1="509.16" x2="22.50" y2="509.16" stroke="#000" stroke-width="0.9"/>
<text x="19.90" y="511.26" font-size="6.0" font-family='"Liberation Sans", sans-serif' text-anchor="end" fill="#333" font-weight="bold" textLength="3.80" lengthAdjust="spacingAndGlyphs">20</text>
<line x1="20.30" y1="494.64" x2="22.50" y2="494.64" stroke="#000" stroke-width="0.9"/>
<text x="19.90" y="496.74" font-size="6.0" font-family='"Liberation Sans", sans-serif' text-anchor="end" fill="#333" font-weight="bold" textLength="3.80" lengthAdjust="spacingAndGlyphs">30</text>
<line x1="20.30" y1="480.12" x2="22.50" y2="480.12" stroke="#000" stroke-width="0.9"/>
<text x="19.90" y="482.22" font-size="6.0" font-family='"Liberation Sans", sans-serif' text-anchor="end" fill="#333" font-weight="bold" textLength="3.80" lengthAdjust="spacingAndGlyphs">40</text>
<line x1="20.30" y1="465.60" x2="22.50" y2="465.60" stroke="#000" stroke-width="0.9"/>
<text x="19.90" y="467.70" font-size="6.0" font-family='"Liberation Sans", sans-serif' text-anchor="end" fill="#333" font-weight="bold" textLength="3.80" lengthAdjust="spacingAndGlyphs">50</text>
<line x1="20.30" y1="451.08" x2="22.50" y2="451.08" stroke="#000" stroke-width="0.9"/>
<text x="19.90" y="453.18" font-size="6.0" font-family='"Liberation Sans", sans-serif' text-anchor="end" fill="#333" font-weight="bold" textLength="3.80" lengthAdjust="spacingAndGlyphs">60</text>
<line x1="20.30" y1="436.56" x2="22.50" y2="436.56" stroke="#000" stroke-width="0.9"/>
<text x="19.90" y="438.66" font-size="6.0" font-family='"Liberation Sans", sans-serif' text-anchor="end" fill="#333" font-weight="bold" textLength="3.80" lengthAdjust="spacingAndGlyphs">70</text>
<line x1="20.30" y1="422.04" x2="22.50" y2="422.04" stroke="#000" stroke-width="0.9"/>
<text x="19.90" y="424.14" font-size="6.0" font-family='"Liberation Sans", sans-serif' text-anchor="end" fill="#333" font-weight="bold" textLength="3.80" lengthAdjust="spacingAndGlyphs">80</text>
<line x1="20.30" y1="407.52" x2="22.50" y2="407.52" stroke="#000" stroke-width="0.9"/>
<text x="19.90" y="409.62" font-size="6.0" font-family='"Liberation Sans", sans-serif' text-anchor="end" fill="#333" font-weight="bold" textLength="3.80" lengthAdjust="spacingAndGlyphs">90</text>
<line x1="20.30" y1="393.00" x2="22.50" y2="393.00" stroke="#000" stroke-width="0.9"/>
<text x="19.90" y="395.10" font-size="6.0" font-family='"Liberation Sans", sans-serif' text-anchor="end" fill="#333" font-weight="bold" textLength="5.70" lengthAdjust="spacingAndGlyphs">100</text>
<text x="11.40" y="501.80" font-size="5.8" font-family='"Liberation Sans", sans-serif' text-anchor="start" fill="#444" font-weight="bold" textLength="74.40" lengthAdjust="spacing" transform="rotate(-90 11.40 501.80)">Cells Percentage (%)</text>
<rect x="24.60" y="536.89" width="8.60" height="1.31" fill="#7a7a7a" stroke="#000" stroke-width="1.3"/>
<rect x="35.35" y="461.97" width="8.60" height="76.23" fill="url(#chk)" stroke="#000" stroke-width="1.3"/>
<line x1="39.65" y1="461.97" x2="39.65" y2="458.34" stroke="#000" stroke-width="0.9"/>
<line x1="37.50" y1="458.34" x2="41.80" y2="458.34" stroke="#000" stroke-width="0.9"/>
<rect x="46.10" y="515.98" width="8.60" height="22.22" fill="url(#hl)" stroke="#000" stroke-width="1.3"/>
<line x1="50.40" y1="515.98" x2="50.40" y2="514.97" stroke="#000" stroke-width="0.9"/>
<line x1="48.25" y1="514.97" x2="52.55" y2="514.97" stroke="#000" stroke-width="0.9"/>
<rect x="56.85" y="492.46" width="8.60" height="45.74" fill="#c8c8c8" stroke="#000" stroke-width="1.3"/>
<line x1="61.15" y1="492.46" x2="61.15" y2="488.40" stroke="#000" stroke-width="0.9"/>
<line x1="59.00" y1="488.40" x2="63.30" y2="488.40" stroke="#000" stroke-width="0.9"/>
<line x1="50.40" y1="538.20" x2="50.40" y2="540.40" stroke="#000" stroke-width="0.9"/>
<text x="50.40" y="547.30" font-size="7.0" font-family='"Liberation Sans", sans-serif' text-anchor="middle" fill="#222" font-weight="bold" textLength="14.60" lengthAdjust="spacingAndGlyphs">Control</text>
<rect x="80.20" y="411.15" width="8.60" height="127.05" fill="#7a7a7a" stroke="#000" stroke-width="1.3"/>
<line x1="84.50" y1="411.15" x2="84.50" y2="410.13" stroke="#000" stroke-width="0.9"/>
<line x1="82.35" y1="410.13" x2="86.65" y2="410.13" stroke="#000" stroke-width="0.9"/>
<rect x="90.95" y="523.68" width="8.60" height="14.52" fill="url(#chk)" stroke="#000" stroke-width="1.3"/>
<line x1="95.25" y1="523.68" x2="95.25" y2="522.81" stroke="#000" stroke-width="0.9"/>
<line x1="93.10" y1="522.81" x2="97.40" y2="522.81" stroke="#000" stroke-width="0.9"/>
<rect x="101.70" y="535.30" width="8.60" height="2.90" fill="url(#hl)" stroke="#000" stroke-width="1.3"/>
<rect x="112.45" y="536.75" width="8.60" height="1.45" fill="#c8c8c8" stroke="#000" stroke-width="1.3"/>
<rect x="123.20" y="537.62" width="8.60" height="0.58" fill="#c8c8c8" stroke="#000" stroke-width="1.3"/>
<line x1="106.00" y1="538.20" x2="106.00" y2="540.40" stroke="#000" stroke-width="0.9"/>
<text x="106.00" y="547.30" font-size="7.0" font-family='"Liberation Sans", sans-serif' text-anchor="middle" fill="#222" font-weight="bold" textLength="38.60" lengthAdjust="spacingAndGlyphs">Paclitaxel (5 μg/mL)</text>
<rect x="135.80" y="397.36" width="8.60" height="140.84" fill="#7a7a7a" stroke="#000" stroke-width="1.3"/>
<rect x="146.55" y="533.12" width="8.60" height="5.08" fill="url(#chk)" stroke="#000" stroke-width="1.3"/>
<rect x="157.30" y="537.33" width="8.60" height="0.87" fill="url(#hl)" stroke="#000" stroke-width="1.3"/>
<rect x="168.05" y="537.33" width="8.60" height="0.87" fill="#c8c8c8" stroke="#000" stroke-width="1.3"/>
<rect x="178.80" y="537.76" width="8.60" height="0.44" fill="#c8c8c8" stroke="#000" stroke-width="1.3"/>
<line x1="161.60" y1="538.20" x2="161.60" y2="540.40" stroke="#000" stroke-width="0.9"/>
<text x="161.60" y="547.30" font-size="7.0" font-family='"Liberation Sans", sans-serif' text-anchor="middle" fill="#222" font-weight="bold" textLength="45.40" lengthAdjust="spacingAndGlyphs">Panduratin A (5 μg/mL)</text>
<rect x="153.60" y="449.40" width="8.60" height="5.20" rx="0.8" fill="#7a7a7a" stroke="#000" stroke-width="1.3"/>
<text x="163.00" y="454.40" font-size="7.6" font-family='"Liberation Sans", sans-serif' text-anchor="start" fill="#444" textLength="19.50" lengthAdjust="spacingAndGlyphs">Below 2N</text>
<rect x="153.60" y="460.30" width="8.60" height="5.20" rx="0.8" fill="#111" stroke="#000" stroke-width="1.3"/>
<polyline points="154.60,461.70 155.42,464.10 156.25,461.70 157.07,464.10 157.90,461.70 158.72,464.10 159.55,461.70 160.38,464.10 161.20,461.70" fill="none" stroke="#fff" stroke-width="0.8"/>
<text x="163.00" y="465.30" font-size="7.6" font-family='"Liberation Sans", sans-serif' text-anchor="start" fill="#444" textLength="5.20" lengthAdjust="spacingAndGlyphs">2N</text>
<rect x="153.60" y="470.80" width="8.60" height="5.20" rx="0.8" fill="#c4c4c4" stroke="#000" stroke-width="1.3"/>
<text x="163.00" y="475.80" font-size="7.6" font-family='"Liberation Sans", sans-serif' text-anchor="start" fill="#444" textLength="11.40" lengthAdjust="spacingAndGlyphs">2N-4N</text>
<rect x="153.60" y="481.20" width="8.60" height="5.20" rx="0.8" fill="#c4c4c4" stroke="#000" stroke-width="1.3"/>
<text x="163.00" y="486.20" font-size="7.6" font-family='"Liberation Sans", sans-serif' text-anchor="start" fill="#444" textLength="5.20" lengthAdjust="spacingAndGlyphs">4N</text>
<rect x="153.60" y="492.10" width="8.60" height="5.20" rx="0.8" fill="#c4c4c4" stroke="#000" stroke-width="1.3"/>
<text x="163.00" y="497.10" font-size="7.6" font-family='"Liberation Sans", sans-serif' text-anchor="start" fill="#444" textLength="20.00" lengthAdjust="spacingAndGlyphs">Above 4N</text>
</svg></body></html>
